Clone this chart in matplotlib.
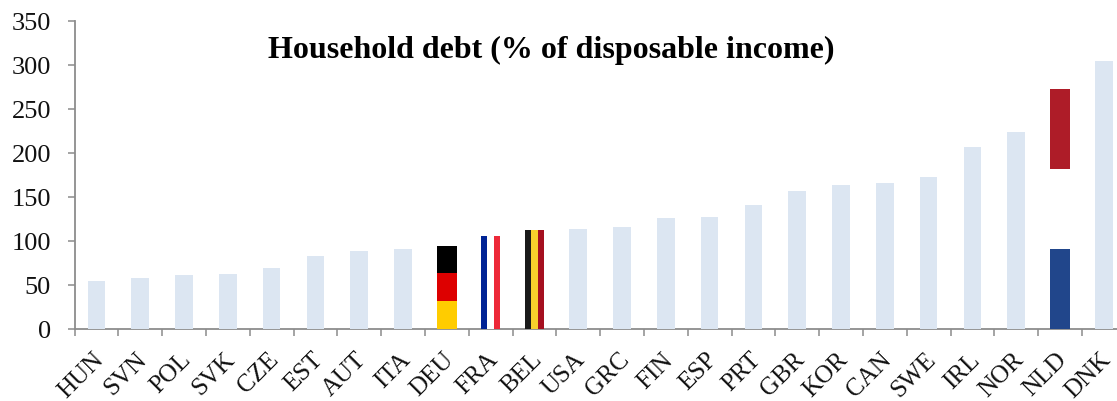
from matplotlib import pyplot as pl

countries = ['HUN', 'SVN', 'POL', 'SVK', 'CZE', 'EST', 'AUT', 'ITA', 'DEU', 'FRA', 'BEL', 'USA',
             'GRC', 'FIN', 'ESP', 'PRT', 'GBR', 'KOR', 'CAN', 'SWE', 'IRL', 'NOR', 'NLD', 'DNK']
debt = [54, 57, 61, 62, 69, 83, 88, 90, 94, 105, 112, 113,
        115, 126, 127, 141, 156, 163, 166, 173, 207, 224, 273, 305]
yticks = [0, 50, 100, 150, 200, 250, 300, 350]

# flag colours
deu_colors = ['#ffcc00', '#dd0000', '#000000']
fra_colors = ['#002395', '#ffffff', '#ed2939']
bel_colors = ['#1a1a1a', '#f7d02c', '#a50f1f']
nld_colors = ['#21468b', '#ffffff', '#ae1c28']

pale = '#dce6f2'
gray = '#8c8c8c'
width = 0.40

pl.rcParams['font.family'] = ['Liberation Serif', 'DejaVu Serif']

fig = pl.figure(figsize=(11.17, 4.02), dpi=100)
ax = fig.add_axes([74.5 / 1117, (402 - 329.5) / 402, 1 - 74.5 / 1117, 307.5 / 402])

x = list(range(len(countries)))
flat = [c not in ('DEU', 'FRA', 'BEL', 'NLD') for c in countries]
ax.bar([i for i in x if flat[i]], [debt[i] for i in x if flat[i]], width, color=pale, zorder=3)

# horizontal stripes
for name, colors in (('DEU', deu_colors), ('NLD', nld_colors)):
    i = countries.index(name)
    for k, c in enumerate(colors):
        ax.bar(i, debt[i] / 3, 0.45, bottom=k * debt[i] / 3, color=c, zorder=3)

# vertical stripes
for name, colors in (('FRA', fra_colors), ('BEL', bel_colors)):
    i = countries.index(name)
    w = 0.45 / 3
    for k, c in enumerate(colors):
        ax.bar(i + (k - 1) * w, debt[i], w, color=c, zorder=3)

ax.set_xlim(-0.5, 23.3)
ax.set_ylim(0, 350)
ax.set_yticks(yticks)
ax.set_xticks([i - 0.5 for i in x])
ax.set_xticklabels([])
ax.tick_params(axis='x', length=5, width=1.1, color=gray)
ax.tick_params(axis='y', length=5, width=1.1, color=gray, labelsize=19, pad=12, labelcolor='#111111')

for i, c in zip(x, countries):
    ax.annotate(c, (i, 0), xycoords=('data', 'axes fraction'), xytext=(-3, -14),
                textcoords='offset points', rotation=45, rotation_mode='anchor',
                ha='right', va='top', fontsize=18, color='#111111')

for s in ('top', 'right'):
    ax.spines[s].set_visible(False)
for s in ('left', 'bottom'):
    ax.spines[s].set_color(gray)
    ax.spines[s].set_linewidth(1.3)

fig.text(551 / 1117, 1 - 50 / 402, 'Household debt (% of disposable income)', ha='center', va='center',
         fontsize=23, fontweight='bold', color='black')

fig.savefig('out.png', dpi=100)
